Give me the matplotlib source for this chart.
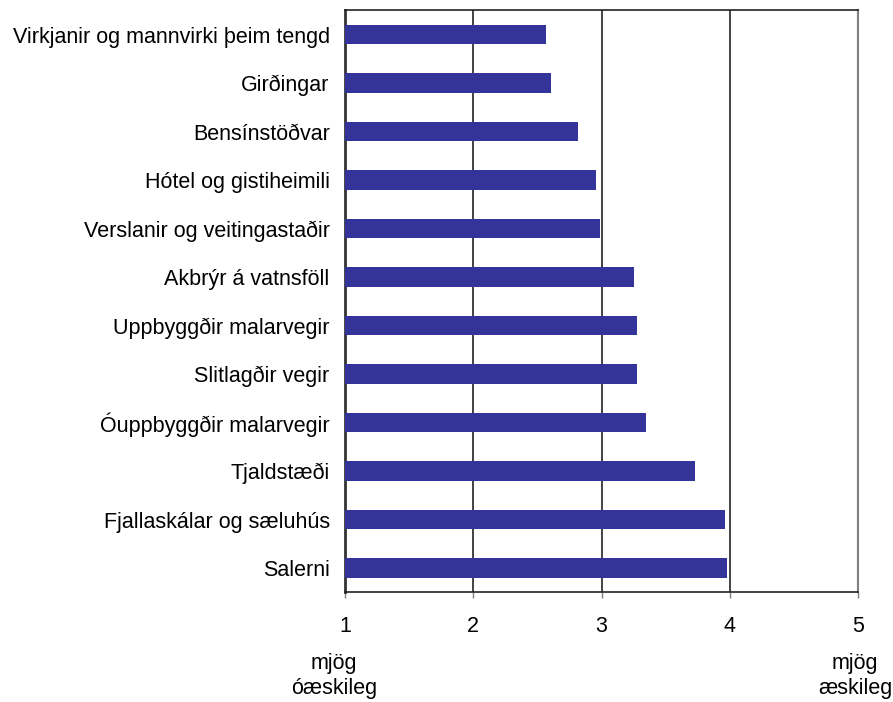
import matplotlib
matplotlib.use("Agg")
import matplotlib.pyplot as plt

# categories, top to bottom
labels = ['Virkjanir og mannvirki þeim tengd', 'Girðingar', 'Bensínstöðvar',
          'Hótel og gistiheimili', 'Verslanir og veitingastaðir', 'Akbrýr á vatnsföll',
          'Uppbyggðir malarvegir', 'Slitlagðir vegir', 'Óuppbyggðir malarvegir',
          'Tjaldstæði', 'Fjallaskálar og sæluhús', 'Salerni']
values = [2.57, 2.61, 2.82, 2.96, 2.99, 3.25, 3.28, 3.28, 3.35, 3.73, 3.96, 3.98]
xticks = [1, 2, 3, 4, 5]

plt.rcParams['font.family'] = ['Liberation Sans', 'DejaVu Sans']
fs = 15.5

fig = plt.figure(figsize=(8.93, 7.02), dpi=100)
ax = fig.add_axes([345/893, (702-592.3)/702, (858-345)/893, (592.3-10.3)/702])

ypos = list(range(len(labels)))
ax.barh(ypos, [v - 1 for v in values], left=1, height=0.41, color='#333399', zorder=3)

ax.set_xlim(1, 5)
ax.set_ylim(len(labels) - 0.5, -0.5)
ax.set_yticks(ypos)
ax.set_yticklabels(labels, fontsize=fs)
ax.set_xticks(xticks)
ax.set_xticklabels([str(t) for t in xticks], fontsize=fs)
ax.tick_params(axis='y', length=0, pad=11)
ax.tick_params(axis='x', length=4, width=1, color='#808080', pad=13)

# vertical gridlines
for t in [2, 3, 4]:
    ax.axvline(t, color='#222222', linewidth=1.2, zorder=1)
ax.axvline(5, color='#808080', linewidth=1.5, zorder=1)

ax.spines['left'].set_color('#333333')
ax.spines['left'].set_linewidth(2)
ax.spines['top'].set_color('#222222')
ax.spines['top'].set_linewidth(1.2)
ax.spines['bottom'].set_color('#222222')
ax.spines['bottom'].set_linewidth(1.2)
ax.spines['right'].set_color('#808080')
ax.spines['right'].set_linewidth(1.5)

ax.annotate('mjög\nóæskileg', xy=(1, 0), xycoords=('data', 'axes fraction'),
            xytext=(-8, -60), textcoords='offset points',
            ha='center', va='center', fontsize=fs, linespacing=1.25)
ax.annotate('mjög\næskileg', xy=(5, 0), xycoords=('data', 'axes fraction'),
            xytext=(-2, -60), textcoords='offset points',
            ha='center', va='center', fontsize=fs, linespacing=1.25)

fig.savefig('out.png', dpi=100)
